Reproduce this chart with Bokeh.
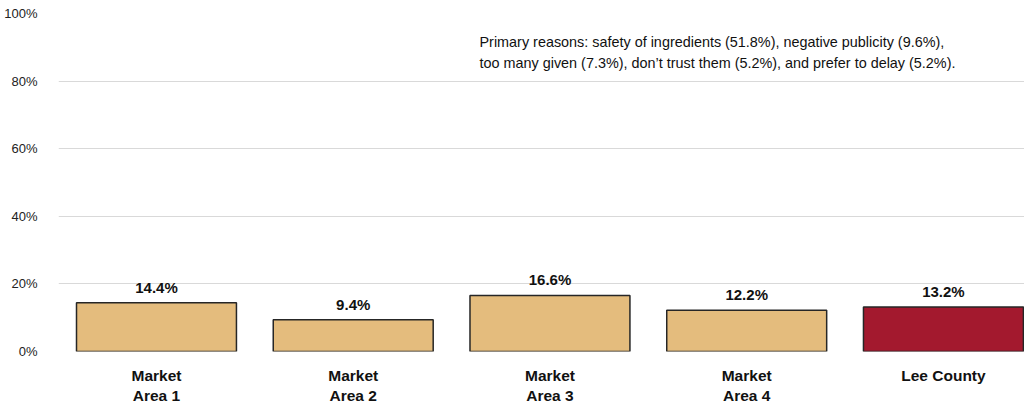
from bokeh.plotting import figure
from bokeh.models import Range1d, FixedTicker, NumeralTickFormatter, Label, ColumnDataSource
from bokeh.core.properties import value
from bokeh.embed import file_html
from bokeh.resources import INLINE

categories = ["Market\nArea 1", "Market\nArea 2", "Market\nArea 3", "Market\nArea 4", "Lee County"]
values = [0.144, 0.094, 0.166, 0.122, 0.132]
value_labels = ["14.4%", "9.4%", "16.6%", "12.2%", "13.2%"]
colors = ["#E4BC7D", "#E4BC7D", "#E4BC7D", "#E4BC7D", "#A3192E"]
y_ticks = [0, 0.2, 0.4, 0.6, 0.8, 1.0]
note = ("Primary reasons: safety of ingredients (51.8%), negative publicity (9.6%),\n"
        "too many given (7.3%), don\u2019t trust them (5.2%), and prefer to delay (5.2%).")

FONT = "Liberation Sans"
idx = list(range(len(categories)))

src = ColumnDataSource(dict(x=idx, top=values, lab=value_labels, color=colors))

p = figure(width=1024, height=406, output_backend="svg", toolbar_location=None,
           x_range=Range1d(-0.498, 4.412), y_range=Range1d(0, 1.0),
           min_border_left=58, min_border_right=0, min_border_top=13, min_border_bottom=50)
p.outline_line_color = None
p.background_fill_color = "white"

p.vbar(x="x", top="top", width=0.813, bottom=0, source=src,
       fill_color="color", line_color="#262626", line_width=1.5)

p.text(x="x", y="top", text="lab", source=src, text_align="center", text_baseline="bottom",
       y_offset=-7, text_font=value(FONT), text_font_style="bold", text_font_size="15px",
       text_color="#111111")

p.yaxis.ticker = FixedTicker(ticks=y_ticks)
p.yaxis.formatter = NumeralTickFormatter(format="0%")
p.yaxis.axis_line_color = None
p.yaxis.major_tick_line_color = None
p.yaxis.minor_tick_line_color = None
p.yaxis.major_label_standoff = 15
p.yaxis.major_label_text_font = FONT
p.yaxis.major_label_text_font_size = "13px"
p.yaxis.major_label_text_color = "#222222"

p.xaxis.ticker = FixedTicker(ticks=idx)
p.xaxis.major_label_overrides = {i: c for i, c in zip(idx, categories)}
p.xaxis.axis_line_color = None
p.xaxis.major_tick_line_color = None
p.xaxis.minor_tick_line_color = None
p.xaxis.major_label_standoff = 9
p.xaxis.major_label_text_font = FONT
p.xaxis.major_label_text_font_style = "bold"
p.xaxis.major_label_text_font_size = "15.5px"
p.xaxis.major_label_text_color = "#111111"
p.xaxis.major_label_text_line_height = 1.2

p.xgrid.grid_line_color = None
p.ygrid.ticker = FixedTicker(ticks=y_ticks)
p.ygrid.grid_line_color = "#D9D9D9"
p.ygrid.grid_line_width = 1

lab = Label(x=1.642, y=0.94, text=note, text_align="left", text_baseline="top",
            text_font=FONT, text_font_size="14.4px", text_color="#111111", text_line_height=1.35)
p.add_layout(lab)

open("out.html", "w").write(file_html(p, INLINE))
